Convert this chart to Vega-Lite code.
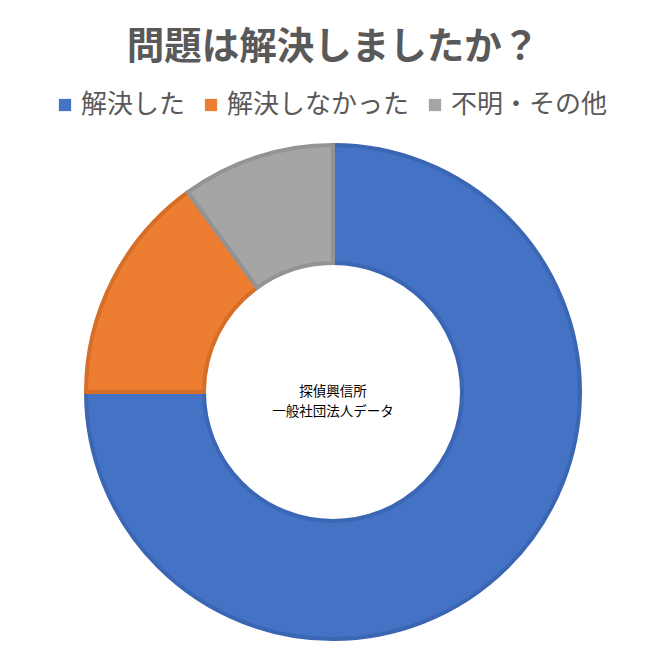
{
  "$schema": "https://vega.github.io/schema/vega-lite/v6.json",
  "width": 660,
  "height": 660,
  "autosize": {"type": "fit", "contains": "padding"},
  "padding": {"left": 6, "top": 28, "right": 0, "bottom": 6},
  "background": "white",
  "title": {
    "text": "問題は解決しましたか？",
    "font": "Noto Sans CJK JP",
    "fontSize": 37.5,
    "fontWeight": "bold",
    "color": "#595959",
    "anchor": "middle",
    "offset": 64
  },
  "config": {"view": {"stroke": null}},
  "layer": [
    {
      "data": {
        "values": [
          {"answer": "解決した", "share": 75, "rank": 1},
          {"answer": "解決しなかった", "share": 15, "rank": 2},
          {"answer": "不明・その他", "share": 10, "rank": 3}
        ]
      },
      "mark": {"type": "arc", "innerRadius": 129, "outerRadius": 247, "strokeWidth": 4},
      "encoding": {
        "theta": {"field": "share", "type": "quantitative", "stack": true},
        "order": {"field": "rank", "type": "quantitative"},
        "color": {
          "field": "answer",
          "type": "nominal",
          "scale": {
            "domain": ["解決した", "解決しなかった", "不明・その他"],
            "range": ["#4472C4", "#ED7D31", "#A5A5A5"]
          },
          "legend": {
            "title": null,
            "orient": "none",
            "legendX": 46,
            "legendY": -38,
            "direction": "horizontal",
            "symbolType": "square",
            "symbolSize": 150,
            "symbolStrokeWidth": 0,
            "labelFont": "Noto Sans CJK JP",
            "labelFontSize": 26,
            "labelColor": "#595959",
            "labelLimit": 400,
            "labelOffset": 3,
            "columnPadding": 12
          }
        },
        "stroke": {
          "field": "answer",
          "type": "nominal",
          "scale": {
            "domain": ["解決した", "解決しなかった", "不明・その他"],
            "range": ["#3B66B4", "#D56E28", "#939393"]
          },
          "legend": null
        }
      }
    },
    {
      "data": {"values": [{"note": "探偵興信所\n一般社団法人データ"}]},
      "mark": {
        "type": "text",
        "lineBreak": "\n",
        "font": "Noto Sans CJK JP",
        "fontSize": 13.5,
        "lineHeight": 20,
        "color": "#000000",
        "align": "center",
        "baseline": "middle"
      },
      "encoding": {"text": {"field": "note", "type": "nominal"}}
    }
  ]
}
